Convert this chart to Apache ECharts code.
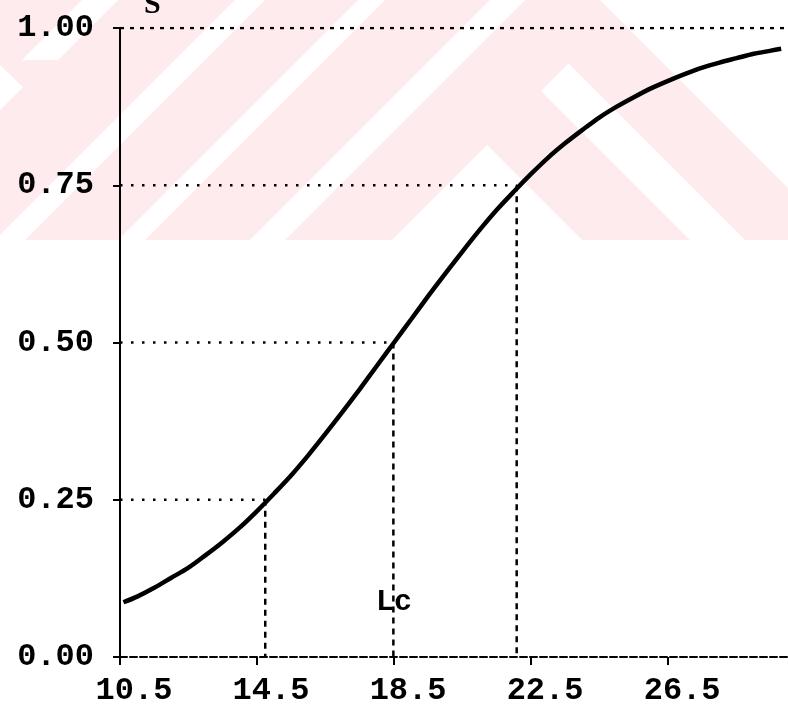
<!DOCTYPE html>
<html><head><meta charset="utf-8">
<script src="https://cdn.jsdelivr.net/npm/echarts@6/dist/echarts.min.js"></script>
<style>html,body{margin:0;padding:0;background:#fff}#c{width:788px;height:710px}</style>
</head><body><div id="c"></div>
<script>
// Data
const lengths = [10.6, 11.0, 11.5, 12.0, 12.5, 13.0, 13.5, 14.0, 14.5, 15.0, 15.5, 16.0, 16.5, 17.0, 17.5, 18.0, 18.5, 19.0, 19.5, 20.0, 20.5, 21.0, 21.5, 22.0, 22.5, 23.0, 23.5, 24.0, 24.5, 25.0, 25.5, 26.0, 26.5, 27.0, 27.5, 28.0, 28.5, 29.0, 29.5, 29.8];
const selectivity = [0.087, 0.096, 0.110, 0.126, 0.142, 0.162, 0.183, 0.206, 0.232, 0.260, 0.289, 0.321, 0.355, 0.390, 0.426, 0.463, 0.500, 0.537, 0.574, 0.610, 0.645, 0.679, 0.711, 0.740, 0.768, 0.794, 0.817, 0.838, 0.858, 0.875, 0.890, 0.904, 0.916, 0.927, 0.937, 0.945, 0.952, 0.959, 0.964, 0.967];
const xTickValues = [10.5, 14.5, 18.5, 22.5, 26.5];
const yTickValues = [0, 0.25, 0.5, 0.75, 1.0];
const refLevels = [0.25, 0.50, 0.75];      // L25, L50 (Lc), L75 selection levels
const refLengths = [14.74, 18.48, 22.08];  // lengths where curve crosses those levels
const topLevel = 1.0;
const lcText = 'Lc';
const lcPoint = [18.5, 0.086];
const yName = 'S';

const X_MIN = 10.5, X_MAX = 30;

const curve = lengths.map((l, i) => [l, selectivity[i]]);

const hSeries = refLevels.map((lv, i) => ({
  type: 'line', silent: true, symbol: 'none', z: 3,
  data: [[X_MIN, lv], [refLengths[i], lv]],
  lineStyle: { color: '#000', width: 2.5, type: [2.5, 8.5] }
}));
const vSeries = refLevels.map((lv, i) => ({
  type: 'line', silent: true, symbol: 'none', z: 3,
  data: [[refLengths[i], lv], [refLengths[i], 0]],
  lineStyle: { color: '#000', width: 2.5, type: [6, 5] }
}));

// watermark (background decoration)
const PINK = '#fdebee';
function band(a, b) { return [[a, 0], [b, 0], [b - 240, 240], [a - 240, 240]]; }
const wm = [];
wm.push({ type: 'rect', shape: { x: 0, y: 0, width: 788, height: 240 }, style: { fill: PINK }, z: -20, silent: true });
const whitePolys = [
  [[82, 0], [118, 0], [58, 60], [22, 60]],
  [[0, 65], [23, 87], [0, 110]],
  band(235, 265), band(358, 385), band(490, 525),
  [[487, 145], [392, 240], [582, 240]],
  [[541, 91], [568.5, 63.5], [745, 240], [690, 240]],
  [[600, 0], [788, 0], [788, 188]]
];
whitePolys.forEach(p => wm.push({ type: 'polygon', shape: { points: p }, style: { fill: '#fff' }, z: -19, silent: true }));

const FONT = 'Liberation Mono';
const sText = { type: 'text', left: 144, top: -10, z: 10, style: { text: yName, fontFamily: 'Liberation Serif', fontWeight: 'bold', fontSize: 30, fill: '#000' } };

const chart = echarts.init(document.getElementById('c'), null, { renderer: 'canvas' });
chart.setOption({
  backgroundColor: '#fff',
  animation: false,
  grid: { left: 120, right: 0, top: 28, bottom: 53, containLabel: false },
  xAxis: {
    type: 'value', min: X_MIN, max: X_MAX,
    axisLine: { show: true, onZero: false, lineStyle: { color: '#000', width: 2, type: [7, 3] } },
    axisTick: { show: true, customValues: xTickValues, length: 8, lineStyle: { color: '#000', width: 2 } },
    axisLabel: {
      customValues: xTickValues, margin: 18, color: '#000',
      fontFamily: FONT, fontWeight: 'bold', fontSize: 32,
      padding: [0, 0, 0, 28],
      formatter: v => v.toFixed(1)
    },
    splitLine: { show: false }
  },
  yAxis: {
    type: 'value', min: 0, max: 1, interval: 0.25,
    axisLine: { show: true, lineStyle: { color: '#000', width: 2 } },
    axisTick: { show: true, length: 7, lineStyle: { color: '#000', width: 2 } },
    axisLabel: {
      margin: 26, color: '#000', fontFamily: FONT, fontWeight: 'bold', fontSize: 32,
      formatter: v => yTickValues.includes(v) ? v.toFixed(2) : ''
    },
    splitLine: { show: false }
  },
  graphic: wm.concat([sText]),
  series: [
    {
      type: 'line', silent: true, symbol: 'none', z: 3,
      data: [[X_MIN, topLevel], [X_MAX, topLevel]],
      lineStyle: { color: '#000', width: 2.5, type: [4, 6] }
    },
    ...hSeries,
    ...vSeries,
    {
      type: 'line', silent: true, symbol: 'none', smooth: 0.3, z: 5,
      data: curve,
      lineStyle: { color: '#000', width: 4.5 }
    }
  ]
});
const lcPix = chart.convertToPixel({ gridIndex: 0 }, lcPoint);
chart.setOption({
  graphic: wm.concat([
    sText,
    { type: 'text', x: lcPix[0], y: lcPix[1], z: 10, style: { text: lcText, fontFamily: FONT, fontWeight: 'bold', fontSize: 30, fill: '#000', align: 'center', verticalAlign: 'middle' } }
  ])
});
</script></body></html>
